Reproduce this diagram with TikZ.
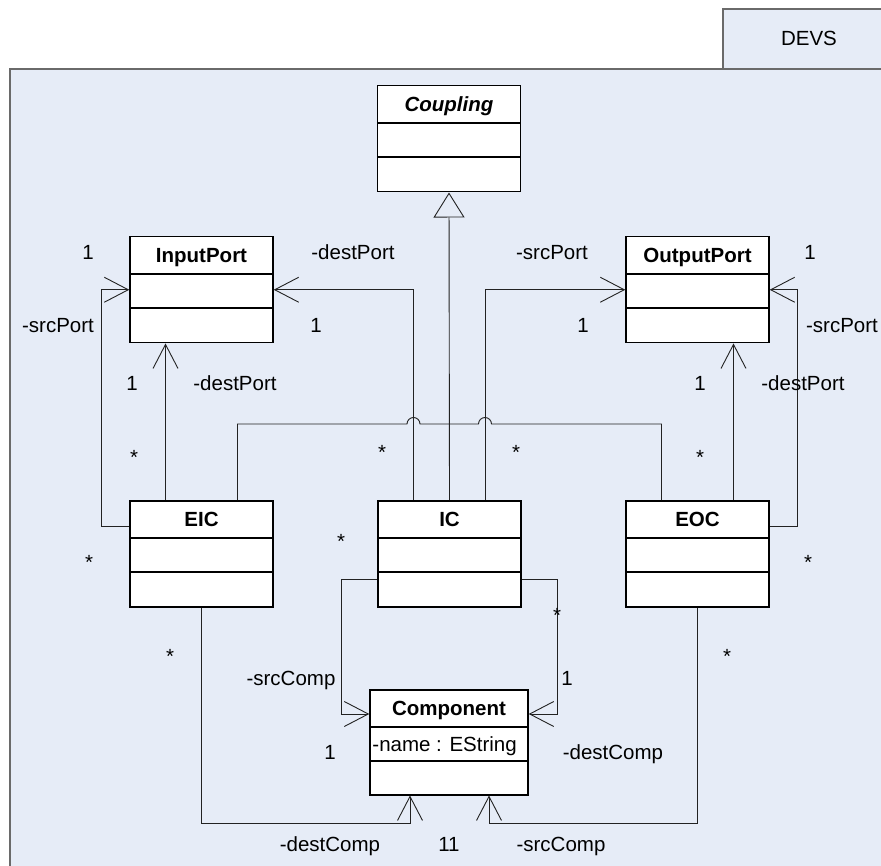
\documentclass[tikz,border=0pt]{standalone}
\usepackage{fontspec}
\setmainfont{Liberation Sans}
\usepackage{xcolor}
\usepackage{tikz}
\usetikzlibrary{calc,arrows.meta}
\definecolor{pane}{HTML}{E6ECF7}
\definecolor{frameline}{HTML}{6A6A6A}
\definecolor{wire}{HTML}{222222}
\newcommand{\labfont}{\fontsize{20.5}{24}\selectfont}
\tikzset{
  cls/.style={draw=black, fill=white, line width=1.5pt, inner sep=0pt, anchor=north},
  sep/.style={draw=black, line width=1.5pt},
  title/.style={font=\labfont\bfseries, text height=15pt, text depth=0pt, inner sep=0pt},
  wireline/.style={draw=wire, line width=0.9pt},
  assoc/.style={wireline, -{Straight Barb[length=24pt, width=25pt, line width=0.9pt]}},
  gen/.style={wireline, -{Triangle[open, length=25pt, width=31pt, line width=0.9pt]}},
  lab/.style={font=\labfont, text height=15pt, text depth=0pt, inner sep=0pt},
  mult/.style={lab, yshift=-4pt},
  every node/.style={font=\labfont}
}

\begin{document}
\begin{tikzpicture}[x=1pt, y=1pt]
  \useasboundingbox (0,0) rectangle (881,-866);
  \clip (0,0) rectangle (881,-866);

  % package frame
  \draw[draw=frameline, fill=pane, line width=1.2pt] (723,-9) rectangle (900,-69);
  \node (devs) at (809,-38) {DEVS};
  \draw[draw=frameline, fill=pane, line width=1.5pt] (10,-69) rectangle (900,-900);

  % classes
  \foreach \n/\x/\y/\t in {coupling/449/85/{\textit{Coupling}}, inport/201.5/236/InputPort,
      outport/697.5/236/OutputPort, eic/201.5/500/EIC, ic/449.5/500/IC, eoc/697.5/500/EOC}{
    \node[cls, minimum width=143pt, minimum height=106pt] (\n) at (\x,-\y) {};
    \node[title] (\n-t) at ([yshift=-19pt]\n.north) {\t};
    \draw[sep] ([yshift=-38pt]\n.north west) -- ([yshift=-38pt]\n.north east);
    \draw[sep] ([yshift=-72pt]\n.north west) -- ([yshift=-72pt]\n.north east);
  }
  \node[cls, minimum width=158pt, minimum height=105pt] (comp) at (449,-689) {};
  \node[title] (comp-t) at ([yshift=-19pt]comp.north) {Component};
  \node[lab, anchor=west] (comp-a) at ([xshift=3pt, yshift=-55pt]comp.north west) {-name : EString};
  \draw[sep] ([yshift=-38pt]comp.north west) -- ([yshift=-38pt]comp.north east);
  \draw[sep] ([yshift=-72pt]comp.north west) -- ([yshift=-72pt]comp.north east);

  % connectors
  \draw[gen] (ic.north) -- (coupling.south);
  \draw[assoc] ([xshift=-36pt]ic.north) |- (inport.east);
  \draw[assoc] ([xshift=36pt]ic.north) |- (outport.west);
  \draw[assoc] ([yshift=-26pt]eic.north west) -- ++(-28pt,0) |- (inport.west);
  \draw[assoc] ([xshift=-36pt]eic.north) -- ([xshift=-36pt]inport.south);
  \draw[assoc] ([yshift=-26pt]eoc.north east) -- ++(28pt,0) |- (outport.east);
  \draw[assoc] ([xshift=36pt]eoc.north) -- ([xshift=36pt]outport.south);
  \draw[wireline] ([xshift=36pt]eic.north) |- (407,-424)
    arc[start angle=180, end angle=0, radius=6.5] -- (478.5,-424)
    arc[start angle=180, end angle=0, radius=6.5] -| ([xshift=-36pt]eoc.north);
  \draw[assoc] ([yshift=-79pt]ic.north west) -- ++(-36pt,0) |- ([yshift=-25pt]comp.north west);
  \draw[assoc] ([yshift=-79pt]ic.north east) -- ++(36pt,0) |- ([yshift=-25pt]comp.north east);
  \draw[assoc] (eic.south) -- ++(0,-216pt) -| ([xshift=-39pt]comp.south);
  \draw[assoc] (eoc.south) -- ++(0,-216pt) -| ([xshift=40pt]comp.south);

  % role names and multiplicities
  \node[lab] (l1) at (88,-252) {1};
  \node[lab] (l2) at (353,-252) {-destPort};
  \node[lab] (l3) at (316,-325) {1};
  \node[lab] (l4) at (58,-325) {-srcPort};
  \node[lab] (l5) at (132,-383) {1};
  \node[lab] (l6) at (235,-383) {-destPort};
  \node[lab] (r1) at (552,-252) {-srcPort};
  \node[lab] (r2) at (810,-252) {1};
  \node[lab] (r3) at (583,-325) {1};
  \node[lab] (r4) at (842,-325) {-srcPort};
  \node[lab] (r5) at (700,-383) {1};
  \node[lab] (r6) at (803,-383) {-destPort};
  \foreach \x/\y [count=\i] in {134/453, 382/448, 516/448, 700/453, 89/558,
      341/537, 808/558, 170/652, 727/652, 557/611}
    \node[mult] (m\i) at (\x,-\y) {*};
  \node[lab] (c1) at (291,-678) {-srcComp};
  \node[lab] (c2) at (567,-678) {1};
  \node[lab] (c3) at (330,-752) {1};
  \node[lab] (c4) at (613,-752) {-destComp};
  \node[lab] (c5) at (330,-844) {-destComp};
  \node[lab] (c6) at (449,-844) {11};
  \node[lab] (c7) at (561,-844) {-srcComp};
\end{tikzpicture}
\end{document}
